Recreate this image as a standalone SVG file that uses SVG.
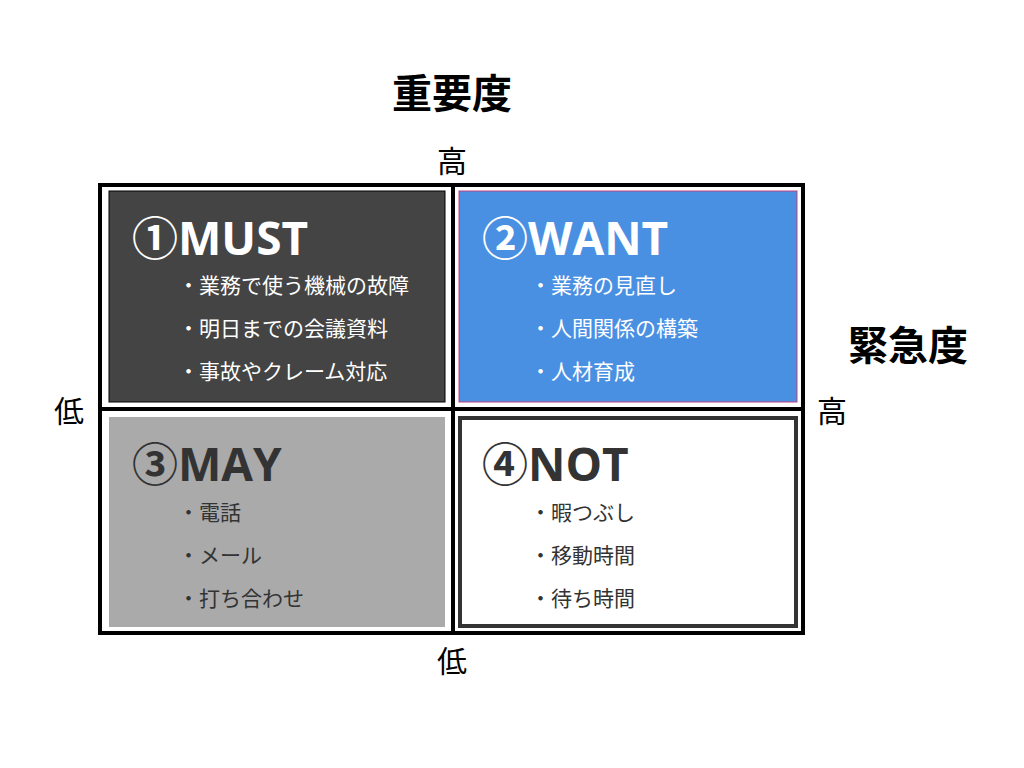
<svg xmlns="http://www.w3.org/2000/svg" width="1024" height="768" viewBox="0 0 1024 768">
<style>
.ax{font-family:"Noto Sans CJK JP","Liberation Sans",sans-serif;font-size:30px;fill:#000}
.big{font-family:"Noto Sans CJK JP","Liberation Sans",sans-serif;font-size:40px;font-weight:bold;fill:#000}
.ttl{font-family:"Open Sans","Noto Sans CJK JP",sans-serif;font-size:46px;font-weight:bold}
.it{font-family:"Noto Sans CJK JP",sans-serif;font-size:21px}
.w{fill:#fff}.d{fill:#333}
</style>
<rect width="1024" height="768" fill="#fff"/>
<text class="big" x="452" y="108" text-anchor="middle">重要度</text>
<text class="big" x="908" y="360" text-anchor="middle">緊急度</text>
<text class="ax" x="452" y="172" text-anchor="middle">高</text>
<text class="ax" x="452" y="672" text-anchor="middle">低</text>
<text class="ax" x="69" y="422" text-anchor="middle">低</text>
<text class="ax" x="832" y="422" text-anchor="middle">高</text>
<g id="connectors">
<rect x="100" y="185" width="703" height="448" fill="none" stroke="#000" stroke-width="4"/>
<line x1="453" y1="185" x2="453" y2="633" stroke="#000" stroke-width="4"/>
<line x1="100" y1="409" x2="803" y2="409" stroke="#000" stroke-width="4"/>
</g>
<g id="must">
<rect x="109" y="191" width="336" height="211" fill="#444" stroke="#000" stroke-width="1"/>
<text class="ttl w" x="132" y="255">①MUST</text>
<text class="it w" x="178" y="293">・業務で使う機械の故障</text>
<text class="it w" x="178" y="336">・明日までの会議資料</text>
<text class="it w" x="178" y="379">・事故やクレーム対応</text>
</g>
<g id="want">
<rect x="459" y="191" width="338" height="211" fill="#4A90E2" stroke="#c04080" stroke-width="1"/>
<text class="ttl w" x="482" y="255">②WANT</text>
<text class="it w" x="530" y="293">・業務の見直し</text>
<text class="it w" x="530" y="336">・人間関係の構築</text>
<text class="it w" x="530" y="379">・人材育成</text>
</g>
<g id="may">
<rect x="109" y="417" width="336" height="210" fill="#aaa"/>
<text class="ttl d" x="132" y="481">③MAY</text>
<text class="it d" x="178" y="520">・電話</text>
<text class="it d" x="178" y="563">・メール</text>
<text class="it d" x="178" y="606">・打ち合わせ</text>
</g>
<g id="not">
<rect x="460" y="418" width="336" height="208" fill="#fff" stroke="#333" stroke-width="4"/>
<text class="ttl d" x="482" y="481">④NOT</text>
<text class="it d" x="530" y="520">・暇つぶし</text>
<text class="it d" x="530" y="563">・移動時間</text>
<text class="it d" x="530" y="606">・待ち時間</text>
</g>
</svg>
